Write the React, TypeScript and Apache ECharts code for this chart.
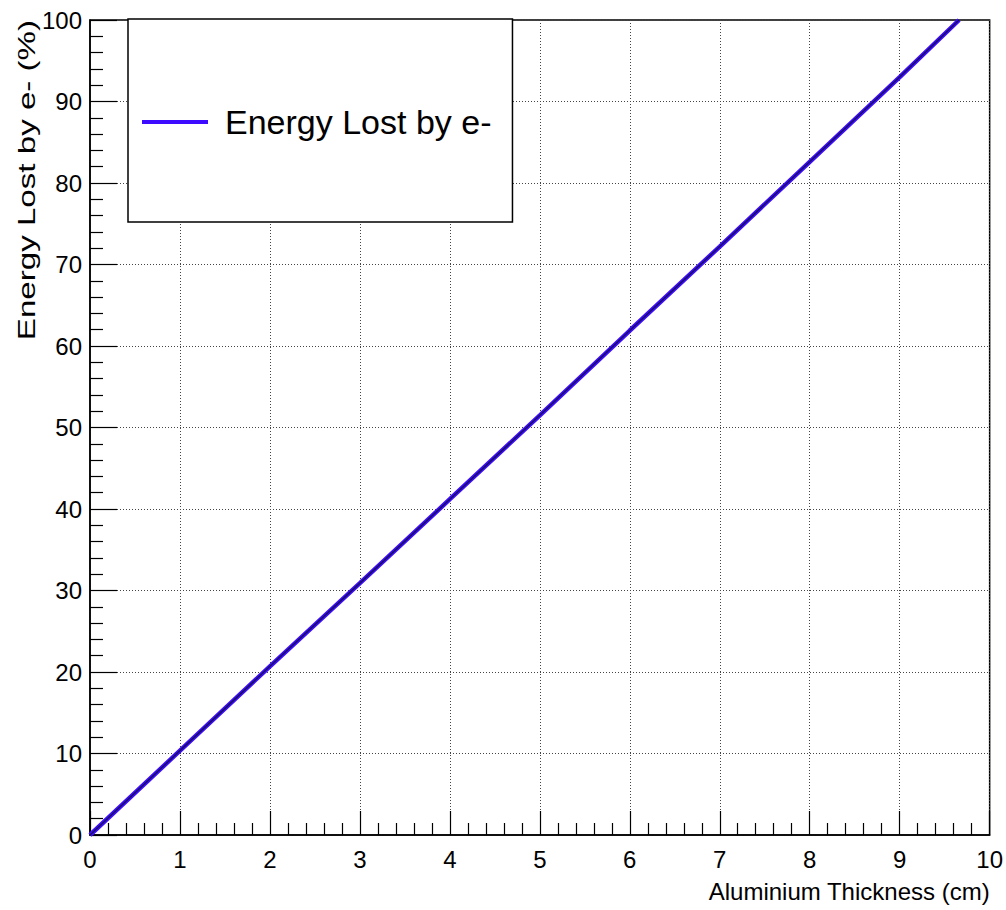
import React, { useEffect, useRef } from "react";
import * as echarts from "echarts";

const thickness = [0, 1, 2, 3, 4, 5, 6, 7, 8, 9, 9.66];
const energyLost = [0, 10.35, 20.7, 30.9, 41.2, 51.5, 61.9, 72.2, 82.6, 93.0, 100];
const seriesName = "Energy Lost by e-";
const xTitle = "Aluminium Thickness (cm)";
const yTitle = "Energy Lost by e- (%)";

const FONT = "'Liberation Sans', Arial, sans-serif";

export default function App() {
  const ref = useRef<HTMLDivElement>(null);
  useEffect(() => {
    if (!ref.current) return;
    const chart = echarts.init(ref.current, null, { renderer: "svg" });
    const pts = thickness.map((x, i) => [x, energyLost[i]]);
    chart.setOption({
      animation: false,
      backgroundColor: "#fff",
      grid: {
        left: 90,
        right: 15,
        top: 20,
        bottom: 75,
        show: true,
        borderColor: "#000",
        borderWidth: 1.5,
        backgroundColor: "transparent",
      },
      legend: {
        data: [seriesName],
        left: 128,
        top: 19,
        orient: "vertical",
        backgroundColor: "#fff",
        borderColor: "#000",
        borderWidth: 1.5,
        borderRadius: 0,
        padding: [83, 21, 80, 14],
        icon: "rect",
        itemWidth: 66,
        itemHeight: 4,
        itemGap: 17,
        textStyle: {
          fontFamily: FONT,
          fontSize: 34,
          lineHeight: 40,
          color: "#000",
          padding: [0, 0, 0, 12],
        },
      },
      xAxis: {
        type: "value",
        min: 0,
        max: 10,
        interval: 1,
        name: xTitle,
        nameLocation: "end",
        nameGap: 0,
        nameTextStyle: {
          fontFamily: FONT,
          fontSize: 24,
          color: "#000",
          align: "right",
          verticalAlign: "top",
          padding: [44, 0, 0, 0],
        },
        axisLine: { show: true, lineStyle: { color: "#000", width: 1.5 } },
        axisTick: { show: true, inside: true, length: 24, lineStyle: { color: "#000", width: 1.2 } },
        minorTick: { show: true, splitNumber: 5, length: 12, lineStyle: { color: "#000", width: 1.2 } },
        axisLabel: {
          margin: 12,
          fontFamily: FONT,
          fontSize: 24,
          color: "#000",
        },
        splitLine: { show: true, lineStyle: { color: "#444", width: 1, type: [1, 2] } },
      },
      yAxis: {
        type: "value",
        min: 0,
        max: 100,
        interval: 10,
        axisLine: { show: true, lineStyle: { color: "#000", width: 1.5 } },
        axisTick: { show: true, inside: true, length: 27, lineStyle: { color: "#000", width: 1.2 } },
        minorTick: { show: true, splitNumber: 5, length: 13, lineStyle: { color: "#000", width: 1.2 } },
        axisLabel: {
          margin: 8,
          fontFamily: FONT,
          fontSize: 24,
          color: "#000",
        },
        splitLine: { show: true, lineStyle: { color: "#444", width: 1, type: [1, 2] } },
      },
      graphic: [
        {
          type: "text",
          x: 27,
          y: 20,
          rotation: Math.PI / 2,
          scaleX: 1.44,
          style: {
            text: yTitle,
            fontFamily: FONT,
            fontSize: 23,
            fill: "#000",
            align: "right",
            verticalAlign: "middle",
          },
        },
      ],
      series: [
        {
          name: seriesName,
          type: "line",
          data: pts,
          showSymbol: false,
          symbol: "none",
          lineStyle: { color: "#3d0bff", width: 4.5 },
          itemStyle: { color: "#3d0bff" },
          z: 2,
        },
        {
          name: "core",
          type: "line",
          data: pts,
          showSymbol: false,
          symbol: "none",
          lineStyle: { color: "#1a1060", width: 1.5 },
          z: 3,
          silent: true,
        },
      ],
    });
    return () => chart.dispose();
  }, []);
  return (
    <div
      ref={ref}
      style={{ position: "fixed", left: 0, top: 0, width: 1006, height: 910 }}
    />
  );
}
